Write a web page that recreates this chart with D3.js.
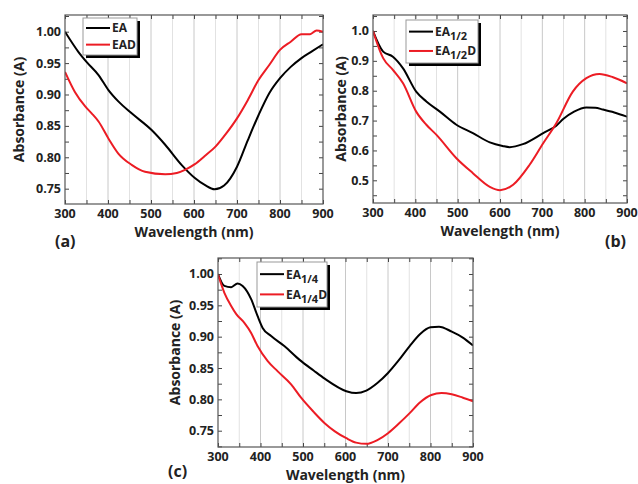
<!DOCTYPE html>
<html>
<head>
<meta charset="utf-8">
<script src="https://cdn.jsdelivr.net/npm/d3@7"></script>
<style>
  body { margin: 0; background: #fff; }
  svg text { font-family: "Open Sans", "DejaVu Sans", sans-serif; font-weight: bold; fill: #222; }
</style>
</head>
<body>
<script>
//wavelength ticks shared by all panels
var xTicks = [300, 400, 500, 600, 700, 800, 900];

//panel (a)
var waveEA = [300, 331, 350, 378, 401, 424, 455, 502, 533, 571, 602, 625, 648, 670, 700, 725, 750, 775, 800, 825, 850, 875, 900];
var absEA = [1.000, 0.968, 0.952, 0.931, 0.907, 0.889, 0.870, 0.843, 0.820, 0.788, 0.767, 0.756, 0.749, 0.755, 0.785, 0.827, 0.867, 0.902, 0.926, 0.944, 0.958, 0.969, 0.980];
var waveEAD = [300, 323, 347, 362, 378, 401, 424, 455, 486, 533, 560, 579, 602, 625, 650, 675, 700, 725, 750, 775, 800, 825, 850, 870, 885, 900];
var absEAD = [0.936, 0.904, 0.881, 0.870, 0.857, 0.830, 0.806, 0.788, 0.777, 0.773, 0.775, 0.780, 0.789, 0.802, 0.817, 0.838, 0.862, 0.891, 0.923, 0.947, 0.971, 0.984, 0.996, 0.996, 1.002, 1.000];

//panel (b)
var waveEA12 = [300, 324, 347, 371, 402, 426, 458, 497, 536, 576, 606, 623, 654, 702, 733, 750, 775, 804, 825, 843, 870, 900];
var absEA12 = [1.000, 0.931, 0.914, 0.875, 0.797, 0.764, 0.730, 0.686, 0.658, 0.627, 0.615, 0.611, 0.621, 0.658, 0.683, 0.706, 0.730, 0.744, 0.743, 0.737, 0.727, 0.713];
var waveEA12D = [300, 324, 347, 371, 402, 426, 450, 497, 536, 576, 600, 631, 670, 702, 733, 772, 804, 835, 867, 900];
var absEA12D = [1.000, 0.909, 0.870, 0.825, 0.730, 0.686, 0.652, 0.574, 0.524, 0.478, 0.467, 0.485, 0.552, 0.624, 0.691, 0.797, 0.842, 0.856, 0.845, 0.825];

//panel (c)
var waveEA14 = [300, 315, 331, 346, 358, 378, 393, 405, 425, 456, 492, 525, 551, 602, 625, 649, 675, 700, 725, 751, 775, 800, 820, 850, 875, 900];
var absEA14 = [1.000, 0.981, 0.979, 0.985, 0.981, 0.960, 0.933, 0.914, 0.901, 0.885, 0.863, 0.846, 0.833, 0.813, 0.810, 0.814, 0.826, 0.842, 0.862, 0.885, 0.904, 0.915, 0.916, 0.908, 0.899, 0.886];
var waveEA14D = [300, 315, 331, 343, 362, 378, 393, 417, 440, 472, 495, 525, 551, 575, 602, 625, 649, 675, 700, 725, 751, 775, 802, 826, 850, 875, 900];
var absEA14D = [0.999, 0.970, 0.949, 0.936, 0.922, 0.906, 0.885, 0.861, 0.845, 0.824, 0.803, 0.780, 0.762, 0.749, 0.738, 0.731, 0.729, 0.735, 0.746, 0.761, 0.778, 0.795, 0.807, 0.810, 0.808, 0.803, 0.797];

var yTicksA = [0.75, 0.80, 0.85, 0.90, 0.95, 1.00];
var yTicksB = [0.5, 0.6, 0.7, 0.8, 0.9, 1.0];
var yTicksC = [0.75, 0.80, 0.85, 0.90, 0.95, 1.00];

var red = "#ec1c24";

var svg = d3.select("body")
    .append("svg")
    .attr("width", 638)
    .attr("height", 484);

//panel layouts
drawPanel({
    left: 65, top: 15, right: 323, bottom: 204,
    yDomain: [0.7256, 1.0266], yTicks: yTicksA, yFmt: ".2f",
    series: [{x: waveEA, y: absEA, color: "#000"}, {x: waveEAD, y: absEAD, color: red}],
    legend: {x: 83, y: 18, w: 54, h: 37, names: [["EA", "", ""], ["EAD", "", ""]]},
    yTitleX: 19,
    tag: "(a)", tagX: 55, tagY: 247
});
drawPanel({
    left: 373, top: 15, right: 627, bottom: 203,
    yDomain: [0.424, 1.0535], yTicks: yTicksB, yFmt: ".1f",
    series: [{x: waveEA12, y: absEA12, color: "#000"}, {x: waveEA12D, y: absEA12D, color: red}],
    legend: {x: 406, y: 20, w: 72, h: 43, names: [["EA", "1/2", ""], ["EA", "1/2", "D"]]},
    yTitleX: 341,
    tag: "(b)", tagX: 605, tagY: 247
});
drawPanel({
    left: 218, top: 258, right: 473, bottom: 447,
    yDomain: [0.724, 1.0255], yTicks: yTicksC, yFmt: ".2f",
    series: [{x: waveEA14, y: absEA14, color: "#000"}, {x: waveEA14D, y: absEA14D, color: red}],
    legend: {x: 257, y: 262, w: 70, h: 45, names: [["EA", "1/4", ""], ["EA", "1/4", "D"]]},
    yTitleX: 175,
    tag: "(c)", tagX: 168, tagY: 477
});

function drawPanel(p){
    var x = d3.scaleLinear().domain([300, 900]).range([p.left, p.right]);
    var y = d3.scaleLinear().domain(p.yDomain).range([p.bottom, p.top]);
    var g = svg.append("g");

    //vertical grid every 50 nm
    g.selectAll(".grid")
      .data(d3.range(350, 900, 50))
      .enter()
      .append("line")
      .attr("x1", function(d){ return x(d); })
      .attr("x2", function(d){ return x(d); })
      .attr("y1", p.top)
      .attr("y2", p.bottom)
      .attr("stroke", function(d){ return d % 100 === 0 ? "#c8c8c8" : "#e2e2e2"; })
      .attr("stroke-width", 1);

    //inward ticks on all four sides
    var minorX = d3.range(300, 901, 50);
    var yStep = p.yTicks[1] - p.yTicks[0];
    var minorY = d3.range(0, 40).map(function(i){ return p.yTicks[0] + (i - 10) * yStep / 2; })
      .filter(function(v){ return v >= p.yDomain[0] && v <= p.yDomain[1]; });

    var bottomAxis = d3.axisBottom(x).tickValues(minorX).tickSize(-4).tickFormat("");
    var topAxis = d3.axisTop(x).tickValues(minorX).tickSize(-4).tickFormat("");
    var leftAxis = d3.axisLeft(y).tickValues(minorY).tickSize(-4).tickFormat("");
    var rightAxis = d3.axisRight(y).tickValues(minorY).tickSize(-4).tickFormat("");

    [[bottomAxis, "translate(0," + p.bottom + ")"], [topAxis, "translate(0," + p.top + ")"],
     [leftAxis, "translate(" + p.left + ",0)"], [rightAxis, "translate(" + p.right + ",0)"]]
    .forEach(function(a){
        var ax = g.append("g").attr("transform", a[1]).call(a[0]);
        ax.select(".domain").remove();
        ax.selectAll("line").attr("stroke", "#444");
    });

    //tick labels
    g.selectAll(".xlab")
      .data(xTicks)
      .enter()
      .append("text")
      .attr("x", function(d){ return x(d); })
      .attr("y", p.bottom + 14)
      .attr("text-anchor", "middle")
      .style("font-size", "12.5px")
      .text(function(d){ return d; });

    g.selectAll(".ylab")
      .data(p.yTicks)
      .enter()
      .append("text")
      .attr("x", p.left - 4)
      .attr("y", function(d){ return y(d) + 4.5; })
      .attr("text-anchor", "end")
      .style("font-size", "12.5px")
      .text(function(d){ return d3.format(p.yFmt)(d); });

    //axis titles
    g.append("text")
      .attr("x", (p.left + p.right) / 2)
      .attr("y", p.bottom + 33)
      .attr("text-anchor", "middle")
      .style("font-size", "14px")
      .text("Wavelength (nm)");

    g.append("text")
      .attr("transform", "translate(" + (p.yTitleX + 5) + "," + ((p.top + p.bottom) / 2) + ") rotate(-90)")
      .attr("text-anchor", "middle")
      .style("font-size", "14px")
      .text("Absorbance (A)");

    //spectra
    var clipId = "clip" + p.left;
    g.append("clipPath").attr("id", clipId)
      .append("rect")
      .attr("x", p.left).attr("y", p.top)
      .attr("width", p.right - p.left).attr("height", p.bottom - p.top);

    p.series.forEach(function(s){
        var pts = s.x.map(function(w, i){ return [w, s.y[i]]; });
        var line = d3.line()
          .x(function(d){ return x(d[0]); })
          .y(function(d){ return y(d[1]); })
          .curve(d3.curveMonotoneX);
        g.append("path")
          .datum(pts)
          .attr("clip-path", "url(#" + clipId + ")")
          .attr("fill", "none")
          .attr("stroke", s.color)
          .attr("stroke-width", 2)
          .attr("d", line);
    });

    //frame
    g.append("rect")
      .attr("x", p.left).attr("y", p.top)
      .attr("width", p.right - p.left).attr("height", p.bottom - p.top)
      .attr("fill", "none")
      .attr("stroke", "#555")
      .attr("stroke-width", 1.2);

    //legend with drop shadow
    var L = p.legend;
    g.append("rect")
      .attr("x", L.x + 3).attr("y", L.y + 3)
      .attr("width", L.w).attr("height", L.h)
      .attr("fill", "#000");
    g.append("rect")
      .attr("x", L.x).attr("y", L.y)
      .attr("width", L.w).attr("height", L.h)
      .attr("fill", "#fff")
      .attr("stroke", "#999")
      .attr("stroke-width", 1);

    L.names.forEach(function(n, i){
        var ly = L.y + (i === 0 ? 0.27 : 0.72) * L.h;
        g.append("line")
          .attr("x1", L.x + 3).attr("x2", L.x + 27)
          .attr("y1", ly).attr("y2", ly)
          .attr("stroke", p.series[i].color)
          .attr("stroke-width", 2);
        var t = g.append("text")
          .attr("x", L.x + 29)
          .attr("y", ly + 4.5)
          .style("font-size", "12px");
        t.append("tspan").text(n[0]);
        if (n[1]) {
            t.append("tspan").attr("dy", 4).style("font-size", "11px").text(n[1]);
        }
        if (n[2]) {
            t.append("tspan").attr("dy", n[1] ? -4 : 0).text(n[2]);
        }
    });

    //panel tag
    g.append("text")
      .attr("x", p.tagX)
      .attr("y", p.tagY)
      .style("font-size", "16px")
      .text(p.tag);
}
</script>
</body>
</html>
